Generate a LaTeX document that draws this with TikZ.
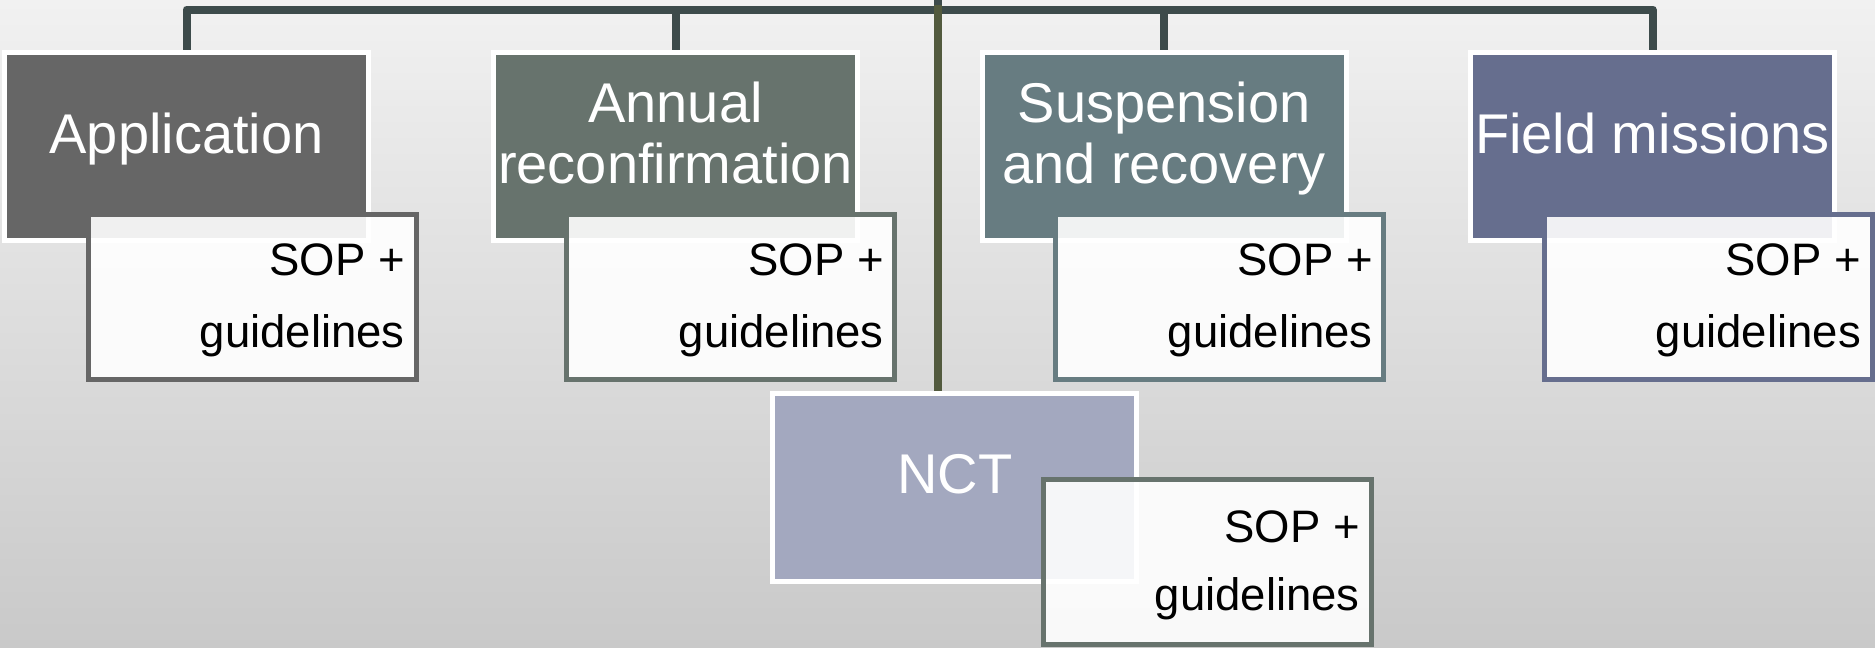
\documentclass[tikz,border=0pt]{standalone}
\usepackage{fontspec}
\setmainfont{Liberation Sans}
\usetikzlibrary{backgrounds}
\definecolor{bgtop}{HTML}{F1F1F1}
\definecolor{bgbot}{HTML}{C9C9C9}
\definecolor{connc}{HTML}{3D4B4B}
\definecolor{olivec}{HTML}{525A3E}
\definecolor{cApp}{HTML}{666666}
\definecolor{cAnn}{HTML}{67736D}
\definecolor{cSus}{HTML}{677C81}
\definecolor{cFld}{HTML}{666E8E}
\definecolor{cNct}{HTML}{A3A8BF}
\tikzset{
  pbox/.style={draw=white,line width=5pt,inner sep=0pt,outer sep=0pt,
    minimum width=364pt,minimum height=188pt},
  cbox/.style={line width=5pt,inner sep=0pt,outer sep=0pt,fill=white,fill opacity=0.9,
    minimum width=328pt,minimum height=165pt},
  ptext/.style={anchor=base,inner sep=0pt,text=white,font=\fontsize{56}{61}\selectfont},
  ctext/.style={anchor=base east,inner sep=0pt,text=black,font=\fontsize{45.5}{72}\selectfont},
  conn/.style={draw=connc,line width=8pt,line join=round},
  oconn/.style={draw=olivec,line width=8pt}
}
\begin{document}
\begin{tikzpicture}[x=1pt,y=-1pt]
\useasboundingbox (0,0) rectangle (1875,648);
\begin{pgfonlayer}{background}
\shade[top color=bgtop,bottom color=bgbot] (0,0) rectangle (1875,648);
\end{pgfonlayer}
% parent boxes
\node[pbox,fill=cApp] (app) at (186.5,146.5) {};
\node[pbox,fill=cAnn] (ann) at (675.5,146.5) {};
\node[pbox,fill=cSus] (sus) at (1164,146.5) {};
\node[pbox,fill=cFld] (fld) at (1652.5,146.5) {};
\node[pbox,fill=cNct] (nct) at (954,487.5) {};
% parent texts
\node[ptext] (appt) at (186.5,153) {Application};
\node[ptext] (annt1) at (675.5,122) {Annual};
\node[ptext] (annt2) at (675.5,183) {reconfirmation};
\node[ptext] (sust1) at (1164,122) {Suspension};
\node[ptext] (sust2) at (1164,183) {and recovery};
\node[ptext] (fldt) at (1652.5,153) {Field missions};
\node[ptext] (nctt) at (955,493) {NCT};
% child boxes
\node[cbox,draw=cApp] (appc) at (252,297) {};
\node[cbox,draw=cAnn] (annc) at (730.5,297) {};
\node[cbox,draw=cSus] (susc) at (1219.5,297) {};
\node[cbox,draw=cFld] (fldc) at (1708,297) {};
\node[cbox,draw=cAnn] (nctc) at (1207.5,562) {};
% child texts
\node[ctext] (appc1) at (405,275) {SOP +};
\node[ctext] (appc2) at (405,347) {guidelines};
\node[ctext] (annc1) at (884,275) {SOP +};
\node[ctext] (annc2) at (884,347) {guidelines};
\node[ctext] (susc1) at (1373,275) {SOP +};
\node[ctext] (susc2) at (1373,347) {guidelines};
\node[ctext] (fldc1) at (1861,275) {SOP +};
\node[ctext] (fldc2) at (1861,347) {guidelines};
\node[ctext] (nctc1) at (1360,542) {SOP +};
\node[ctext] (nctc2) at (1360,610) {guidelines};
% connectors
\coordinate (root) at (938,-4);
\coordinate (bar) at (938,9.5);
\coordinate (bartop) at (938,5);
\begin{pgfonlayer}{background}
\draw[conn] (root) -- (bar);
\draw[conn] (app.north) -- (app.north |- bar) -- (fld.north |- bar) -- (fld.north);
\draw[conn] (ann.north) -- (ann.north |- bar);
\draw[conn] (sus.north) -- (sus.north |- bar);
\draw[oconn] (bartop) -- (bartop |- nct.north);
\end{pgfonlayer}
\end{tikzpicture}
\end{document}
